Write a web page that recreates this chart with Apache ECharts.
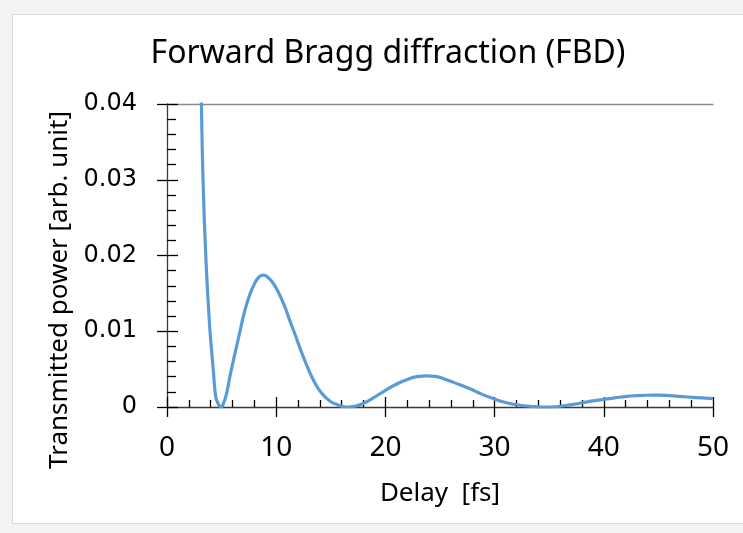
<!DOCTYPE html>
<html>
<head>
<meta charset="utf-8">
<script src="https://cdn.jsdelivr.net/npm/echarts@6/dist/echarts.min.js"></script>
<style>
html,body{margin:0;padding:0;background:#f4f4f4;}
#frame{position:absolute;left:12px;top:14px;width:740px;height:508px;background:#fff;border:1px solid #d9d9d9;}
#chart{position:absolute;left:0;top:0;width:743px;height:533px;}
</style>
</head>
<body>
<div id="frame"></div>
<div id="chart"></div>
<script>
// Delay [fs]
const delay = [3.0, 3.15, 3.3, 3.55, 3.9, 4.24, 4.46, 4.7, 4.95, 5.2, 5.46, 5.8, 6.23, 6.7, 7.14, 7.6, 8.06, 8.45, 8.82, 9.25, 9.74, 10.25, 10.8, 11.25, 11.72, 12.3, 12.94, 13.5, 14.17, 14.9, 15.6, 16.4, 17.2, 18.0, 19.0, 20.0, 21.0, 21.95, 22.9, 23.8, 24.7, 25.6, 26.7, 27.75, 28.8, 29.9, 31.0, 32.0, 33.2, 34.4, 35.2, 36.5, 37.8, 39.0, 39.95, 41.0, 42.1, 43.0, 43.9, 45.0, 46.06, 47.0, 47.9, 49.0, 50.0];
// Transmitted power [arb. unit]
const power = [0.052, 0.040, 0.030, 0.020, 0.0108, 0.0049, 0.0014, 0.0004, 0.0, 0.0006, 0.0018, 0.0043, 0.0071, 0.0101, 0.0128, 0.0149, 0.0164, 0.0172, 0.0174, 0.0171, 0.0163, 0.0150, 0.0132, 0.0114, 0.0096, 0.0073, 0.0050, 0.0033, 0.0018, 0.0008, 0.0003, 0.0, 0.0001, 0.0005, 0.0013, 0.0022, 0.0030, 0.0036, 0.0040, 0.0041, 0.0040, 0.0036, 0.0030, 0.0024, 0.0017, 0.0011, 0.0006, 0.0003, 0.0001, 0.0, 0.0, 0.0002, 0.0005, 0.0008, 0.0010, 0.0012, 0.0014, 0.0015, 0.00155, 0.00156, 0.00150, 0.0014, 0.0013, 0.0012, 0.0011];
const xTicks = {min: 0, max: 50, interval: 10};
const yTicks = {min: 0, max: 0.04, interval: 0.01};
const titleText = 'Forward Bragg diffraction (FBD)';
const xName = 'Delay  [fs]';
const yName = 'Transmitted power [arb. unit]';

const data = delay.map((d, i) => [d, power[i]]);
const FONT = 'Noto Sans';
const AX = '#3a3a3a';
const gridRect = {left: 167, right: 30, top: 104, bottom: 126};

const chart = echarts.init(document.getElementById('chart'), null, {renderer: 'canvas'});
chart.setOption({
  animation: false,
  backgroundColor: 'transparent',
  title: {
    text: titleText, left: 383, top: 33, textAlign: 'center',
    textStyle: {fontFamily: FONT, fontSize: 32, fontWeight: 'normal', color: '#000'}
  },
  graphic: [{
    type: 'text', x: 60, y: 290, rotation: Math.PI / 2,
    style: {text: yName, fontFamily: FONT, fontSize: 26, fill: '#000',
            textAlign: 'center', textVerticalAlign: 'middle'}
  }],
  grid: [Object.assign({}, gridRect), Object.assign({}, gridRect)],
  xAxis: [
    {type: 'value', gridIndex: 0, position: 'bottom', min: xTicks.min, max: xTicks.max, interval: xTicks.interval,
     axisLine: {show: true, onZero: false, lineStyle: {color: AX, width: 1.3}},
     axisTick: {show: true, inside: false, length: 10, lineStyle: {color: '#000', width: 1.3}},
     axisLabel: {show: true, margin: 27, fontFamily: FONT, fontSize: 28, color: '#000'},
     splitLine: {show: false},
     name: xName, nameLocation: 'middle', nameGap: 74,
     nameTextStyle: {fontFamily: FONT, fontSize: 26, color: '#000'}},
    {type: 'value', gridIndex: 0, position: 'top', min: xTicks.min, max: xTicks.max, interval: xTicks.interval,
     axisLine: {show: true, onZero: false, lineStyle: {color: '#8a8a8a', width: 1.3}},
     axisTick: {show: false}, axisLabel: {show: false}, splitLine: {show: false}},
    {type: 'value', gridIndex: 1, position: 'bottom', min: xTicks.min, max: xTicks.max, interval: xTicks.interval,
     axisLine: {show: false, onZero: false},
     axisTick: {show: true, inside: true, length: 10, lineStyle: {color: '#000', width: 1.3}},
     minorTick: {show: true, splitNumber: 5, length: 7, lineStyle: {color: '#000', width: 1.3}},
     axisLabel: {show: false}, splitLine: {show: false}}
  ],
  yAxis: [
    {type: 'value', gridIndex: 0, position: 'left', min: yTicks.min, max: yTicks.max, interval: yTicks.interval,
     axisLine: {show: true, onZero: false, lineStyle: {color: AX, width: 1.3}},
     axisTick: {show: true, inside: false, length: 10, lineStyle: {color: '#000', width: 1.3}},
     axisLabel: {show: true, margin: 30, fontFamily: 'DejaVu Sans', fontSize: 24, color: '#000',
                 formatter: v => v === 0 ? '0' : v.toFixed(2)},
     splitLine: {show: false}},
    {type: 'value', gridIndex: 1, position: 'left', min: yTicks.min, max: yTicks.max, interval: yTicks.interval,
     axisLine: {show: false, onZero: false},
     axisTick: {show: true, inside: true, length: 11, lineStyle: {color: '#000', width: 1.3}},
     minorTick: {show: true, splitNumber: 5, length: 9, lineStyle: {color: '#000', width: 1.3}},
     axisLabel: {show: false}, splitLine: {show: false}}
  ],
  series: [{
    type: 'line', xAxisIndex: 0, yAxisIndex: 0, data: data,
    smooth: 0.5, showSymbol: false, clip: true,
    lineStyle: {color: '#5B9BD5', width: 3.2}
  }]
});
</script>
</body>
</html>
